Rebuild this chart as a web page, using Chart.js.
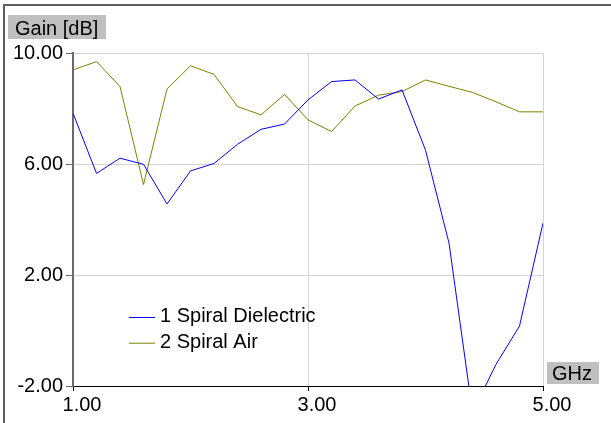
<!DOCTYPE html>
<html>
<head>
<meta charset="utf-8">
<script src="https://cdn.jsdelivr.net/npm/chart.js@4.4.0/dist/chart.umd.min.js"></script>
<style>
html,body{margin:0;padding:0;background:#fff;}
#wrap{width:611px;height:423px;position:relative;}
</style>
</head>
<body>
<div id="wrap"><canvas id="c" width="611" height="423"></canvas></div>
<script>
const freqGHz = [1.0,1.2,1.4,1.6,1.8,2.0,2.2,2.4,2.6,2.8,3.0,3.2,3.4,3.6,3.8,4.0,4.2,4.4,4.6,4.8,5.0];
const spiralDielectric = [7.83,5.66,6.21,5.99,4.56,5.75,6.02,6.71,7.25,7.44,8.31,8.97,9.03,8.34,8.67,6.50,3.15,-2.95,-1.22,0.16,3.87];
const spiralAir = [9.39,9.69,8.79,5.26,8.70,9.54,9.23,8.07,7.77,8.51,7.59,7.17,8.09,8.48,8.61,9.03,8.80,8.58,8.24,7.88,7.88];
const seriesNames = ['1 Spiral Dielectric','2 Spiral Air'];
const xTicks = [1,3,5];
const yTicks = [-2,2,6,10];
const yAxisTitle = 'Gain [dB]';
const xAxisTitle = 'GHz';

const FONT = '"Liberation Sans", Arial, sans-serif';

const toPts = (ys) => freqGHz.map((f,i)=>({x:f,y:ys[i]}));

const overlay = {
  id:'overlay',
  afterDraw(chart){
    const ctx = chart.ctx, a = chart.chartArea;
    ctx.save();
    // outer frame (top and left)
    ctx.strokeStyle = '#5e5e5e'; ctx.lineWidth = 2;
    ctx.beginPath(); ctx.moveTo(4,430); ctx.lineTo(4,5); ctx.lineTo(620,5); ctx.stroke();
    ctx.font = '20px ' + FONT;
    ctx.textBaseline = 'alphabetic';
    // y axis title box
    ctx.fillStyle = '#c0c0c0';
    ctx.fillRect(8,15,98,24);
    ctx.fillStyle = '#000';
    ctx.textAlign = 'left';
    ctx.fillText(yAxisTitle, 15, 35);
    // x axis title box
    ctx.fillStyle = '#c0c0c0';
    ctx.fillRect(a.right+4, a.bottom-24, 52, 22);
    ctx.fillStyle = '#000';
    ctx.fillText(xAxisTitle, a.right+9, a.bottom-6);
    // legend
    const ds = chart.data.datasets;
    ds.forEach((d,i)=>{
      const y = 317.5 + i*25.7;
      ctx.strokeStyle = d.borderColor; ctx.lineWidth = 1;
      ctx.beginPath(); ctx.moveTo(129,y); ctx.lineTo(155,y); ctx.stroke();
      ctx.fillStyle = '#000';
      ctx.fillText(d.label, 160, y+4.5);
    });
    ctx.restore();
  }
};

new Chart(document.getElementById('c'), {
  type:'line',
  data:{
    datasets:[
      {label:seriesNames[0], data:toPts(spiralDielectric), borderColor:'#0000ff', borderWidth:1, pointRadius:0, tension:0, fill:false},
      {label:seriesNames[1], data:toPts(spiralAir), borderColor:'#808000', borderWidth:1, pointRadius:0, tension:0, fill:false}
    ]
  },
  options:{
    responsive:false,
    animation:false,
    devicePixelRatio:1,
    layout:{padding:{left:0,top:53,right:68,bottom:0}},
    plugins:{legend:{display:false},tooltip:{enabled:false}},
    scales:{
      x:{
        type:'linear', min:1, max:5,
        afterBuildTicks(s){ s.ticks = xTicks.map(v=>({value:v})); },
        afterFit(s){ s.height = 37; },
        ticks:{ color:'#000', font:{family:FONT,size:20}, padding:2, labelOffset:9, maxRotation:0, autoSkip:false,
          callback:(v)=>Number(v).toFixed(2) },
        grid:{ color:(c)=> c.tick && c.tick.value===1 ? '#6a6a6a' : '#d4d4d4', tickColor:'#000', tickLength:5, lineWidth:1 },
        border:{ color:'#000', width:1 }
      },
      y:{
        min:-2, max:10,
        afterBuildTicks(s){ s.ticks = yTicks.map(v=>({value:v})); },
        afterFit(s){ s.width = 73; },
        ticks:{ color:'#000', font:{family:FONT,size:20}, padding:3, autoSkip:false,
          callback:(v)=>Number(v).toFixed(2) },
        grid:{ color:(c)=> c.tick && c.tick.value===-2 ? '#000' : '#d4d4d4', tickColor:'#6a6a6a', tickLength:7, lineWidth:1 },
        border:{ color:'#6a6a6a', width:2 }
      }
    }
  },
  plugins:[overlay]
});
</script>
</body>
</html>
